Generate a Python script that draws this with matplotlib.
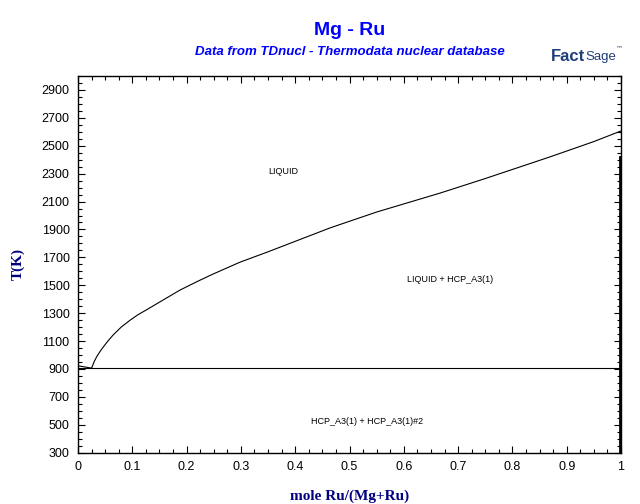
import matplotlib
matplotlib.use('Agg')
import matplotlib.pyplot as plt
from matplotlib.ticker import MultipleLocator

# liquidus (LIQUID / LIQUID + HCP_A3)
liq_x = [0.025, 0.030, 0.035, 0.041, 0.047, 0.055, 0.065, 0.08, 0.096, 0.11, 0.127,
         0.157, 0.188, 0.219, 0.249, 0.298, 0.35, 0.40, 0.464, 0.55, 0.667, 0.75,
         0.869, 0.95, 1.0]
liq_T = [906, 955, 992, 1028, 1060, 1100, 1145, 1202, 1250, 1288, 1326,
         1395, 1466, 1526, 1581, 1665, 1740, 1815, 1911, 2025, 2161, 2265,
         2420, 2530, 2606]

# Mg-side liquidus
mg_x = [0.0, 0.025]
mg_T = [923, 906]

# eutectic isotherm
eut_x = [0.0, 1.0]
eut_T = [906, 906]

# Ru-side solidus (nearly vertical at x ~ 1)
ru_x = [0.998, 0.998]
ru_T = [300, 2421]

# phase-field labels
labels = ['LIQUID', 'LIQUID + HCP_A3(1)', 'HCP_A3(1) + HCP_A3(1)#2']
label_x = [0.378, 0.685, 0.532]
label_T = [2312, 1538, 527]

xticks = [0, 0.1, 0.2, 0.3, 0.4, 0.5, 0.6, 0.7, 0.8, 0.9, 1]
xtick_labels = ['0', '0.1', '0.2', '0.3', '0.4', '0.5', '0.6', '0.7', '0.8', '0.9', '1']
yticks = [300, 500, 700, 900, 1100, 1300, 1500, 1700, 1900, 2100, 2300, 2500, 2700, 2900]

fig = plt.figure(figsize=(6.4, 5.04), dpi=100)
ax = fig.add_axes([0.1219, 0.1018, 0.8484, 0.7474])

ax.plot(liq_x, liq_T, color='black', lw=0.8)
ax.plot(mg_x, mg_T, color='black', lw=0.8)
ax.plot(eut_x, eut_T, color='black', lw=0.8)
ax.plot(ru_x, ru_T, color='black', lw=2.0)

for s, x, t in zip(labels, label_x, label_T):
    ax.text(x, t, s, fontsize=6.5, family='Liberation Sans', ha='center', va='center')

ax.set_xlim(0, 1)
ax.set_ylim(300, 3000)
ax.set_xticks(xticks)
ax.set_xticklabels(xtick_labels)
ax.xaxis.set_minor_locator(MultipleLocator(0.025))
ax.set_yticks(yticks)
ax.yaxis.set_minor_locator(MultipleLocator(50))
ax.tick_params(which='both', direction='in', top=True, right=True, width=0.8)
ax.tick_params(which='major', length=5, labelsize=9, pad=6)
ax.tick_params(which='minor', length=3)
for lab in ax.get_xticklabels() + ax.get_yticklabels():
    lab.set_family('Liberation Sans')
for sp in ax.spines.values():
    sp.set_linewidth(1.0)

navy = '#000080'
ax.set_xlabel('mole Ru/(Mg+Ru)', fontsize=11, fontweight='bold', color=navy,
              family='Liberation Serif', labelpad=12)
ax.set_ylabel('T(K)', fontsize=11, fontweight='bold', color=navy,
              family='Liberation Serif', labelpad=12)

fig.text(0.546, 0.940, 'Mg - Ru', fontsize=14, fontweight='bold', color='#0000FF',
         family='Liberation Sans', ha='center', va='center')
fig.text(0.546, 0.897, 'Data from TDnucl - Thermodata nuclear database', fontsize=9.5,
         fontweight='bold', style='italic', color='#0000FF', family='Liberation Sans',
         ha='center', va='center')

# FactSage logo
logo = '#1F3F7A'
fig.text(0.915, 0.888, 'Fact', fontsize=12, fontweight='heavy', color=logo,
         family='Liberation Sans', ha='right', va='center')
fig.text(0.915, 0.886, 'Sage', fontsize=9.5, color=logo, family='Liberation Sans',
         ha='left', va='center')
fig.text(0.962, 0.905, '\u2122', fontsize=5, color=logo, ha='left', va='center')

fig.savefig('out.png', dpi=100)
